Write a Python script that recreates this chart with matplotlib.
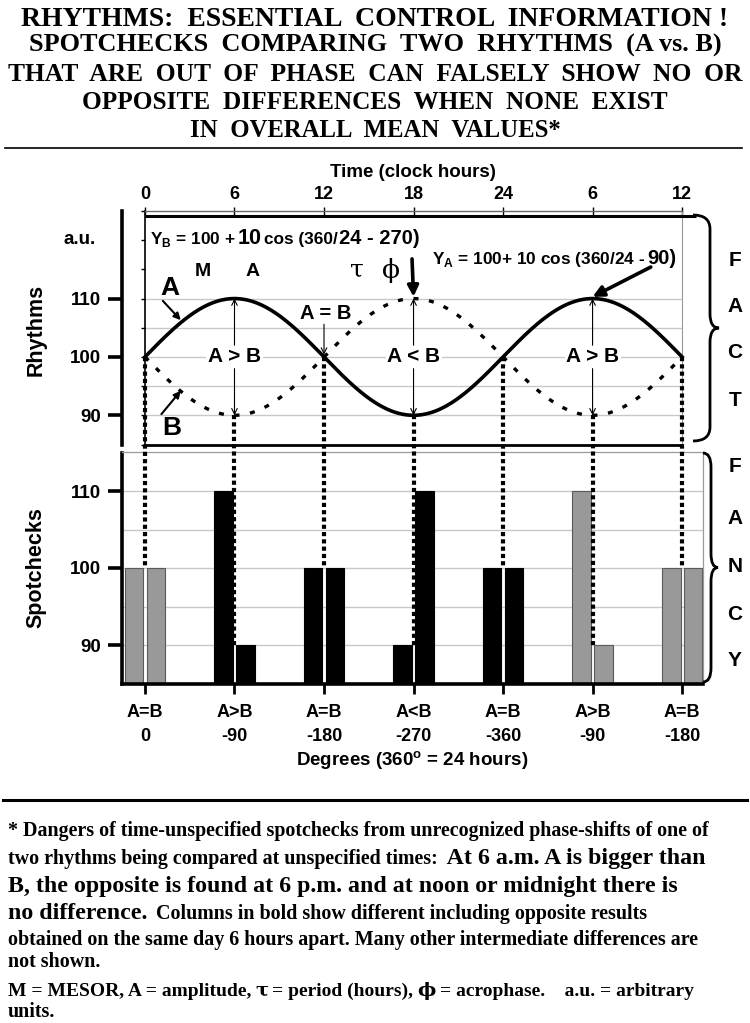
import numpy as np
import matplotlib
matplotlib.use('Agg')
import matplotlib.pyplot as plt
from matplotlib import font_manager
from matplotlib.patches import PathPatch
from matplotlib.path import Path
from matplotlib.lines import Line2D

names = set(f.name for f in font_manager.fontManager.ttflist)
sans = 'Liberation Sans'
narrow = 'Liberation Sans Narrow' if 'Liberation Sans Narrow' in names else 'Liberation Sans'
serif = 'Liberation Serif'

plt.rcParams['font.family'] = [sans, 'DejaVu Sans']
plt.rcParams['font.weight'] = 'bold'
plt.rcParams['mathtext.fontset'] = 'custom'
plt.rcParams['mathtext.rm'] = sans
plt.rcParams['mathtext.bf'] = sans + ':bold'

# cosinor parameters given in the chart formulas
mesor = 100
amplitude = 10
period = 24          # hours
acrophase_A = 6      # hour of peak of A
acrophase_B = 18     # hour of peak of B

# spotchecks every 6 hours
hours = [0, 6, 12, 18, 24, 30, 36]
clock_labels = ['0', '6', '12', '18', '24', '6', '12']
spot_A = [100, 110, 100, 90, 100, 110, 100]
spot_B = [100, 90, 100, 110, 100, 90, 100]
bold_cols = [False, True, True, True, True, False, False]
compare = ['A=B', 'A>B', 'A=B', 'A<B', 'A=B', 'A>B', 'A=B']
degrees = ['0', '-90', '-180', '-270', '-360', '-90', '-180']

W, H = 750, 1023
fig = plt.figure(figsize=(7.5, 10.23), dpi=100)
renderer = fig.canvas.get_renderer()


def fx(px):
    return px / W


def fy(py):
    return 1 - py / H


def put_line(x, y, pieces, gap=4):
    # pieces of text with different sizes on one baseline (pixel coords)
    for s, size, fam in pieces:
        t = fig.text(fx(x), fy(y), s, fontsize=size, family=fam, weight='bold',
                     ha='left', va='baseline')
        x = t.get_window_extent(renderer).x1 + gap


def title_line(s, y, width, size=18):
    t = fig.text(0.5, fy(y), s, ha='center', va='baseline', family=serif,
                 weight='bold', fontsize=size)
    w = t.get_window_extent(renderer).width
    t.set_fontsize(size * width / w)


def brace(xl, xv, xt, ytop, ybot, r=14):
    ym = (ytop + ybot) / 2
    pts = [(xl, ytop), (xv, ytop), (xv, ytop + r), (xv, ym - r), (xv, ym), (xt, ym),
           (xv, ym), (xv, ym + r), (xv, ybot - r), (xv, ybot), (xl, ybot)]
    codes = [Path.MOVETO, Path.CURVE3, Path.CURVE3, Path.LINETO, Path.CURVE3, Path.CURVE3,
             Path.CURVE3, Path.CURVE3, Path.LINETO, Path.CURVE3, Path.CURVE3]
    p = Path([(fx(a), fy(b)) for a, b in pts], codes)
    fig.add_artist(PathPatch(p, transform=fig.transFigure, fill=False, lw=2, color='k'))


# ---------------- titles ----------------
title_line('RHYTHMS:  ESSENTIAL  CONTROL  INFORMATION !', 26, 710)
title_line('SPOTCHECKS  COMPARING  TWO  RHYTHMS  (A vs. B)', 52, 694)
title_line('THAT  ARE  OUT  OF  PHASE  CAN  FALSELY  SHOW  NO  OR', 81, 734)
title_line('OPPOSITE  DIFFERENCES  WHEN  NONE  EXIST', 109, 585)
title_line('IN  OVERALL  MEAN  VALUES*', 137, 370)
fig.add_artist(Line2D([fx(5), fx(742)], [fy(148), fy(148)], color='k', lw=1.2))
fig.add_artist(Line2D([fx(3), fx(747)], [fy(800), fy(800)], color='k', lw=2.2))

# ---------------- axes ----------------
pxh = 14.92
x0, x1 = -1.54, 37.4
ax1 = fig.add_axes([fx(122), fy(444.5), (x1 - x0) * pxh / W, (444.5 - 211) / H])
ax2 = fig.add_axes([fx(122), fy(683.5), (x1 - x0) * pxh / W, (683.5 - 452.5) / H])

t = np.linspace(hours[0], hours[-1], 721)
yA = mesor + amplitude * np.cos(2 * np.pi * (t - acrophase_A) / period)
yB = mesor + amplitude * np.cos(2 * np.pi * (t - acrophase_B) / period)

# top panel: rhythms
ax1.set_xlim(x0, x1)
ax1.set_ylim(85, 125)
ax1.hlines([90, 95, 100, 105, 110], hours[0], hours[-1], color='#c8c8c8', lw=1, zorder=0)
ax1.vlines(hours[-1], 85, 125, color='#9a9a9a', lw=0.8)
ax1.hlines(124.1, hours[0], 36.9, color='k', lw=2.2)
ax1.plot(t, yA, color='k', lw=2.6, zorder=3)
ax1.plot(t, yB, color='k', lw=2.4, linestyle=(0, (1.5, 3.2)), zorder=3)

ax1.spines['right'].set_visible(False)
ax1.spines['left'].set_linewidth(2.6)
ax1.spines['bottom'].set_bounds(hours[0], hours[-1])
ax1.spines['bottom'].set_linewidth(2)
ax1.spines['top'].set_bounds(hours[0], hours[-1])
ax1.spines['top'].set_linewidth(1)
ax1.spines['top'].set_color('#666666')
ax1.set_yticks([90, 100, 110])
ax1.set_yticklabels(['90', '100', '110'], fontsize=13.5, weight='bold')
ax1.tick_params(axis='y', length=10, width=2.6, direction='out', pad=5)
ax1.xaxis.set_ticks_position('top')
ax1.xaxis.set_label_position('top')
ax1.set_xticks(hours)
ax1.set_xticklabels(clock_labels, fontsize=13, weight='bold')
ax1.tick_params(axis='x', length=6, width=1, direction='inout', pad=3)
ax1.set_xlabel('Time (clock hours)', fontsize=13.5, weight='bold', labelpad=6)

inner = ax1.secondary_yaxis((hours[0] - x0) / (x1 - x0))
inner.set_yticks(np.arange(85, 126, 5))
inner.set_yticklabels([])
inner.tick_params(length=3, width=1)
inner.spines['left'].set_linewidth(1.2)

# labels on the rhythm curves
for h, a, b, c in zip(hours, spot_A, spot_B, compare):
    if c == 'A=B':
        continue
    ax1.text(h, 100, c.replace('>', ' > ').replace('<', ' < '), ha='center', va='center',
             fontsize=15, weight='bold', zorder=4,
             bbox=dict(facecolor='white', edgecolor='none', pad=1))
    ax1.annotate('', xy=(h, max(a, b)), xytext=(h, 102),
                 arrowprops=dict(arrowstyle='->', lw=0.8, color='k', shrinkA=0, shrinkB=0))
    ax1.annotate('', xy=(h, min(a, b)), xytext=(h, 98),
                 arrowprops=dict(arrowstyle='->', lw=0.8, color='k', shrinkA=0, shrinkB=0))
ax1.text(hours[2] + 0.1, 107.5, 'A = B', ha='center', va='center', fontsize=14.5, weight='bold')
ax1.annotate('', xy=(hours[2], 100.4), xytext=(hours[2], 105.6),
             arrowprops=dict(arrowstyle='->', lw=0.8, color='k', shrinkA=0, shrinkB=0))

ax1.text(1.7, 111.8, 'A', ha='center', va='center', fontsize=19, weight='bold')
ax1.annotate('', xy=(2.4, 106.3), xytext=(1.2, 109.6),
             arrowprops=dict(arrowstyle='-|>', lw=1.5, color='k', mutation_scale=10,
                             shrinkA=0, shrinkB=0))
ax1.text(1.8, 87.9, 'B', ha='center', va='center', fontsize=19, weight='bold')
ax1.annotate('', xy=(2.4, 94.2), xytext=(1.1, 90.2),
             arrowprops=dict(arrowstyle='-|>', lw=1.5, color='k', mutation_scale=10,
                             shrinkA=0, shrinkB=0))

# acrophase arrows
ax1.annotate('', xy=(acrophase_B, mesor + amplitude + 0.3), xytext=(acrophase_B - 0.1, 116.8),
             arrowprops=dict(arrowstyle='-|>', lw=2.6, color='k', mutation_scale=16,
                             shrinkA=0, shrinkB=0))
ax1.annotate('', xy=(acrophase_A + period, mesor + amplitude + 0.3), xytext=(33.9, 115.4),
             arrowprops=dict(arrowstyle='-|>', lw=2.6, color='k', mutation_scale=16,
                             shrinkA=0, shrinkB=0))

put_line(150, 244, [('Y$_\\mathregular{B}$ = 100 +', 12.4, narrow), ('10', 15.5, narrow),
                    ('cos (360/', 12.4, narrow), ('24 - 270)', 14.5, narrow)], gap=2)
put_line(432, 264, [('Y$_\\mathregular{A}$ = 100+ 10 cos (360/24 -', 12.4, narrow),
                    ('90)', 14.5, narrow)], gap=2)
fig.text(fx(203), fy(276), 'M', fontsize=14, weight='bold', ha='center', va='baseline')
fig.text(fx(253), fy(276), 'A', fontsize=14, weight='bold', ha='center', va='baseline')
fig.text(fx(357), fy(276), 'τ', fontsize=18, weight='normal', family='DejaVu Serif',
         ha='center', va='baseline')
fig.text(fx(391), fy(278), 'ϕ', fontsize=19, weight='normal', family='DejaVu Serif',
         ha='center', va='baseline')

# bottom panel: spotchecks
ax2.set_xlim(x0, x1)
ax2.set_ylim(85, 115)
ax2.hlines([90, 95, 100, 105, 110], x0, x1, color='#c8c8c8', lw=1, zorder=0)
cols = ['k' if b else '#999999' for b in bold_cols]
edges = ['k' if b else '#5a5a5a' for b in bold_cols]
off, bw = 0.73, 1.25
ax2.bar(np.array(hours) - off, spot_A, width=bw, color=cols, edgecolor=edges, lw=0.8, zorder=2)
ax2.bar(np.array(hours) + off, spot_B, width=bw, color=cols, edgecolor=edges, lw=0.8, zorder=2)
for s in ['top', 'right']:
    ax2.spines[s].set_color('#9a9a9a')
    ax2.spines[s].set_linewidth(0.9)
ax2.spines['left'].set_linewidth(2.6)
ax2.spines['bottom'].set_linewidth(2.6)
ax2.set_yticks([90, 100, 110])
ax2.set_yticklabels(['90', '100', '110'], fontsize=13.5, weight='bold')
ax2.tick_params(axis='y', length=10, width=2.6, direction='out', pad=5)
ax2.set_xticks(hours)
ax2.set_xticklabels([c + '\n' + d for c, d in zip(compare, degrees)], fontsize=13,
                    weight='bold', linespacing=1.55)
ax2.tick_params(axis='x', length=7, width=2, direction='out', pad=8)
ax2.set_xlabel('Degrees (360$^\\mathbf{o}$ = 24 hours)', fontsize=13.5, weight='bold', labelpad=3)

# dotted drop lines from the rhythms to the spotchecks
to_fig = fig.transFigure.inverted()
for h, a, b in zip(hours, spot_A, spot_B):
    p_top = to_fig.transform(ax1.transData.transform((h, min(a, b))))
    p_bot = to_fig.transform(ax2.transData.transform((h, min(a, b))))
    fig.add_artist(Line2D([p_top[0], p_bot[0]], [p_top[1], p_bot[1]], color='k', lw=3,
                          linestyle=(0, (1.0, 0.75)), solid_capstyle='butt',
                          dash_capstyle='butt', zorder=5))

fig.text(fx(36), fy(330), 'Rhythms', rotation=90, fontsize=15.5, weight='bold', ha='center', va='center')
fig.text(fx(36), fy(568), 'Spotchecks', rotation=90, fontsize=15.5, weight='bold', ha='center', va='center')
fig.text(fx(80), fy(240), 'a.u.', fontsize=13.5, weight='bold', ha='center', va='center')

brace(693, 710, 719, 215, 441)
brace(703, 711, 718, 453, 682)
for ch, y in zip('FACT', [260, 306, 353, 400]):
    fig.text(fx(735), fy(y), ch, fontsize=15, weight='bold', ha='center', va='center')
for ch, y in zip('FANCY', [467, 518, 567, 615, 660]):
    fig.text(fx(735), fy(y), ch, fontsize=15, weight='bold', ha='center', va='center')

# ---------------- footnote ----------------
sm, lg = 14.4, 17.2
put_line(8, 836, [('* Dangers of time-unspecified spotchecks from unrecognized phase-shifts of one of', sm, serif)])
put_line(8, 864, [('two rhythms being compared at unspecified times:', sm, serif),
                  (' At 6 a.m. A is bigger than', lg, serif)])
put_line(8, 892, [('B, the opposite is found at 6 p.m. and at noon or midnight there is', lg, serif)])
put_line(8, 919, [('no difference.', lg, serif), (' Columns in bold show different including opposite results', sm, serif)])
put_line(8, 945, [('obtained on the same day 6 hours apart. Many other intermediate differences are', sm, serif)])
put_line(8, 967, [('not shown.', sm, serif)])
put_line(8, 996, [('M = MESOR, A = amplitude,', 14, serif), ('τ', 14, 'DejaVu Serif'),
                  ('= period (hours),', 14, serif), ('ϕ', 14, 'DejaVu Serif'),
                  ('= acrophase.    a.u. = arbitrary', 14, serif)])
put_line(8, 1017, [('units.', sm, serif)])

fig.savefig('out.png', dpi=100)
